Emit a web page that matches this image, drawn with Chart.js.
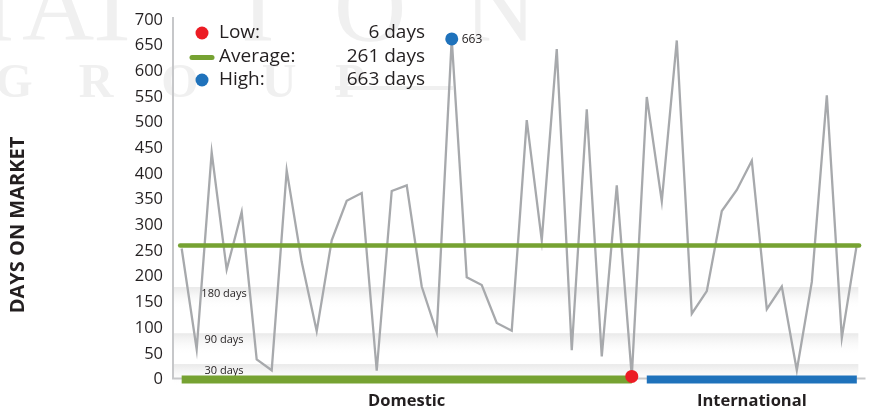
<!DOCTYPE html>
<html>
<head>
<meta charset="utf-8">
<script src="https://cdn.jsdelivr.net/npm/chart.js@4.4.1/dist/chart.umd.min.js"></script>
<style>
html,body{margin:0;padding:0;background:#fff;}
#wrap{width:872px;height:410px;position:relative;}
</style>
</head>
<body>
<div id="wrap"><canvas id="dom" width="872" height="410"></canvas></div>
<script>
/* ===== DATA ===== */
const groups = ["Domestic","International"];
const domestic = [255,59,442,214,326,39,18,407,229,94,271,348,363,17,367,378,181,92,663,199,184,110,95,505,271,643,57,526,45,378,6];
const international = [550,347,660,128,172,328,369,426,137,181,18,190,553,81,263];
const average = 261;
const bandDays = [180,90,30];
const yTicks = {min:0,max:700,step:50};

const values = domestic.concat(international);
const pts = values.map((v,i)=>({x:i,y:v}));
const lowVal = Math.min(...values), lowIdx = values.indexOf(lowVal);
const highVal = Math.max(...values), highIdx = values.indexOf(highVal);
const lastIdx = values.length-1;

const GREEN="#76a232", BLUE="#1f72bb", RED="#ec1c24", GRAY="#a7a9ac", INK="#231f20";
const FONT="'Open Sans', sans-serif";

/* background watermark + bands + labels */
const decor = {
  id:"decor",
  beforeDraw(chart){
    const c = chart.ctx;
    c.save();
    c.fillStyle="#fff";
    c.fillRect(0,0,chart.width,chart.height);
    c.fillStyle="#f0f0f0";
    c.textAlign="center";
    c.textBaseline="alphabetic";
    c.font="100px 'Liberation Serif', serif";
    [["I",-2],["A",58],["T",112],["I",258],["O",370],["N",500]].forEach(([t,x])=>c.fillText(t,x,40));
    c.font="bold 48px 'Liberation Serif', serif";
    [["G",14],["R",96],["O",180],["U",279],["P",350]].forEach(([t,x])=>c.fillText(t,x,97));
    c.fillRect(335,86,118,4);
    c.restore();
  },
  beforeDatasetsDraw(chart){
    const c = chart.ctx, a = chart.chartArea, xs = chart.scales.x, ys = chart.scales.y;
    const right = xs.getPixelForValue(lastIdx+0.1);
    c.save();
    bandDays.forEach(d=>{
      const y0 = ys.getPixelForValue(d);
      const g = c.createLinearGradient(0,y0,0,y0+22);
      g.addColorStop(0,"rgba(232,232,232,0.95)");
      g.addColorStop(1,"rgba(255,255,255,0)");
      c.fillStyle=g;
      c.fillRect(a.left+1,y0,right-a.left-1,22);
    });
    c.fillStyle=INK;
    c.font="11px "+FONT;
    c.textAlign="center";
    c.textBaseline="middle";
    bandDays.forEach(d=>{
      c.fillText(d+" days",a.left+51,ys.getPixelForValue(d)+7);
    });
    /* axis lines */
    c.strokeStyle="#c6c7c9";
    c.lineWidth=2;
    c.beginPath();
    c.moveTo(a.left,a.top-3);
    c.lineTo(a.left,a.bottom-1);
    c.lineTo(a.right,a.bottom-1);
    c.stroke();
    c.restore();
  },
  afterDatasetsDraw(chart){
    const c = chart.ctx, a = chart.chartArea, xs = chart.scales.x, ys = chart.scales.y;
    c.save();
    /* legend */
    c.font="19px "+FONT;
    c.textBaseline="middle";
    const rows=[
      {name:"Low:",val:lowVal+" days",mark:"dot",color:RED,y:33},
      {name:"Average:",val:average+" days",mark:"line",color:GREEN,y:56.5},
      {name:"High:",val:highVal+" days",mark:"dot",color:BLUE,y:80}
    ];
    rows.forEach(r=>{
      if(r.mark==="dot"){
        c.fillStyle=r.color;
        c.beginPath();c.arc(202,r.y,6.5,0,Math.PI*2);c.fill();
      }else{
        c.strokeStyle=r.color;c.lineWidth=5;c.lineCap="round";
        c.beginPath();c.moveTo(192,r.y+1);c.lineTo(212,r.y+1);c.stroke();
      }
      c.fillStyle=INK;
      c.textAlign="left";
      c.fillText(r.name,219,r.y);
      c.textAlign="right";
      c.fillText(r.val,425,r.y);
    });
    /* high value tag */
    c.font="12px "+FONT;
    c.textAlign="left";
    c.fillText(String(highVal),xs.getPixelForValue(highIdx)+10,ys.getPixelForValue(highVal)+1);
    /* group labels */
    c.font="bold 16.5px "+FONT;
    c.textAlign="center";
    c.fillText(groups[0],(xs.getPixelForValue(0)+xs.getPixelForValue(domestic.length-1))/2,401);
    c.fillText(groups[1],(xs.getPixelForValue(domestic.length)+xs.getPixelForValue(lastIdx))/2,401);
    /* y title */
    c.translate(18,225);
    c.rotate(-Math.PI/2);
    c.font="bold 20px "+FONT;
    c.fillText("DAYS ON MARKET",0,0);
    c.restore();
  }
};

new Chart(document.getElementById("dom"),{
  type:"line",
  data:{
    datasets:[
      {data:pts,borderColor:GRAY,borderWidth:2.3,pointRadius:0,tension:0,order:4,clip:false},
      {data:[{x:-0.1,y:average},{x:lastIdx+0.15,y:average}],borderColor:GREEN,borderWidth:4.5,borderCapStyle:"round",pointRadius:0,order:2,clip:false},
      {data:[{x:0,y:0},{x:domestic.length-1,y:0}],borderColor:GREEN,borderWidth:8,borderCapStyle:"butt",pointRadius:0,order:1,clip:false},
      {data:[{x:domestic.length,y:0},{x:lastIdx,y:0}],borderColor:BLUE,borderWidth:8,borderCapStyle:"butt",pointRadius:0,order:1,clip:false},
      {data:[{x:lowIdx,y:lowVal}],showLine:false,pointRadius:6.5,pointBackgroundColor:RED,pointBorderWidth:0,order:0,clip:false},
      {data:[{x:highIdx,y:highVal}],showLine:false,pointRadius:6.5,pointBackgroundColor:BLUE,pointBorderWidth:0,order:0,clip:false}
    ]
  },
  options:{
    responsive:false,
    devicePixelRatio:1,
    animation:false,
    events:[],
    layout:{padding:{left:0,right:4,top:17,bottom:30.5}},
    plugins:{legend:{display:false},tooltip:{enabled:false}},
    scales:{
      x:{type:"linear",display:false,min:-0.578,max:lastIdx+0.578},
      y:{
        min:yTicks.min,max:yTicks.max,
        grid:{display:false,drawTicks:false},
        border:{display:false},
        ticks:{stepSize:yTicks.step,padding:10,color:INK,font:{family:"'Open Sans'",size:16.5}},
        afterFit(s){s.width=173;}
      }
    }
  },
  plugins:[decor]
});
</script>
</body>
</html>
